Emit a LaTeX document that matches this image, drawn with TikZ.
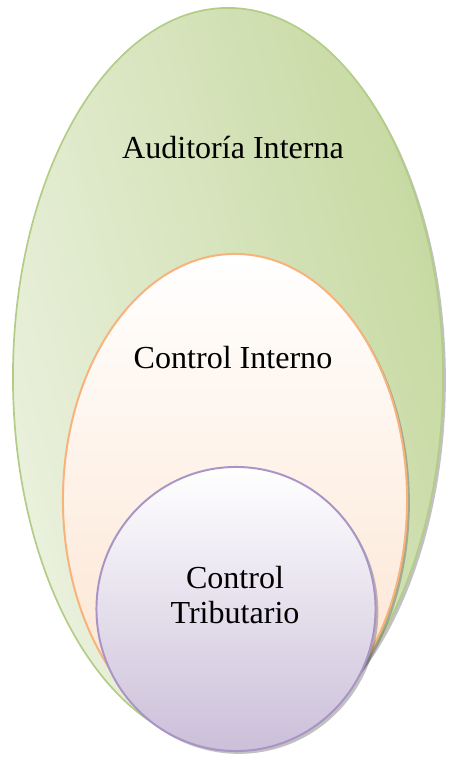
\documentclass[tikz,border=0pt]{standalone}
\usepackage{fontspec}
\setmainfont{Liberation Serif}
\usetikzlibrary{shapes.geometric, shadows}

\definecolor{greenlight}{HTML}{EBF1DE}
\definecolor{greendark}{HTML}{C6D9A1}
\definecolor{greenline}{HTML}{B3CD86}
\definecolor{peach}{HTML}{FCE2CD}
\definecolor{peachline}{HTML}{F8B27C}
\definecolor{lilac}{HTML}{CBBFD9}
\definecolor{lilacline}{HTML}{A895C6}

\begin{document}
\begin{tikzpicture}[
  x=0.025cm, y=-0.025cm,
  oval/.style={ellipse, draw, inner sep=0pt,
    drop shadow={shadow xshift=2pt, shadow yshift=-2pt, opacity=0.35, fill=black!70}},
  lbl/.style={align=center, font=\fontsize{22.8}{25.5}\selectfont}
]

  \useasboundingbox (0,0) rectangle (453,757);

  % nested sets
  \node[oval, line width=1.2pt, draw=greenline, minimum width=10.75cm, minimum height=18.45cm,
    left color=greenlight, right color=greendark, shading angle=105] (audit) at (228,377) {};
  \node[oval, line width=1.4pt, draw=peachline, minimum width=8.6cm, minimum height=12.3cm,
    top color=white, bottom color=peach] (internal) at (235,500) {};
  \node[oval, line width=1.4pt, draw=lilacline, minimum width=6.975cm, minimum height=7.1cm,
    top color=white, bottom color=lilac] (tax) at (236,609) {};

  % labels
  \node[lbl] (auditlbl) at (233,148) {Auditoría Interna};
  \node[lbl] (internallbl) at (233,358) {Control Interno};
  \node[lbl] (taxlbl) at (235,595) {Control\\Tributario};

\end{tikzpicture}
\end{document}
